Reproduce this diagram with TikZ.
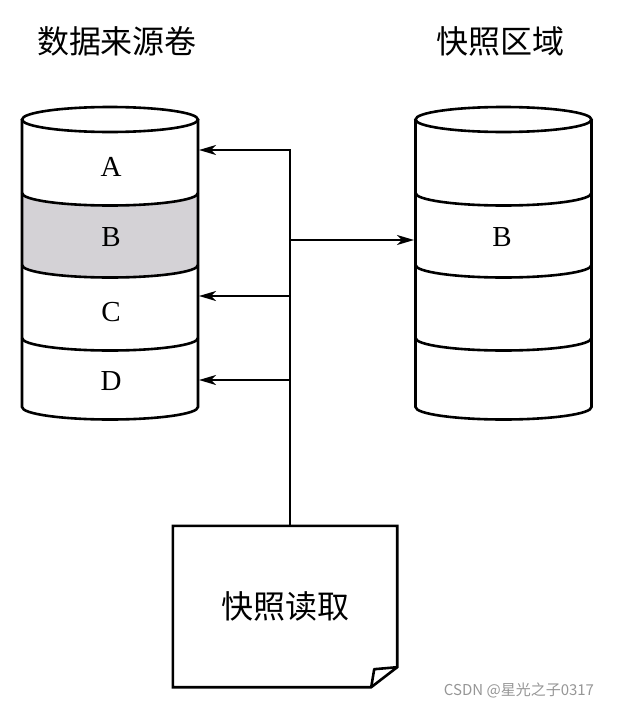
\documentclass[tikz,border=0pt]{standalone}
\usepackage{fontspec}
\setmainfont{Liberation Serif}
\newfontfamily\cjk{Noto Sans CJK SC}
\usetikzlibrary{arrows.meta}
\definecolor{bandgray}{RGB}{212,210,214}
\definecolor{markgray}{RGB}{150,150,150}

\begin{document}
\begin{tikzpicture}[x=1pt,y=-1pt,
		wall/.style={line width=2.6pt},
		link/.style={line width=2pt,-{Stealth[length=17pt,width=10pt,inset=5pt]}},
		letter/.style={font=\fontsize{29}{29}\selectfont},
		title/.style={font=\cjk\fontsize{32}{32}\selectfont},
		half/.style={x radius=88,y radius=12.5}]
				\useasboundingbox (0,0) rectangle (616,707);
				% shaded band B of the source volume
				\fill [bandgray] (22,193) arc[start angle=180,end angle=0,half] -- (198,265)
					arc[start angle=0,end angle=180,half] -- cycle;
				% the two volumes
				\foreach \cx in {110,503.5} {
					\draw [wall] (\cx,119.5) ellipse[half];
					\draw [wall] ({\cx-88},119.5) -- ({\cx-88},407) arc[start angle=180,end angle=0,half] -- ({\cx+88},119.5);
					\foreach \y in {193,265,338}
						\draw [wall] ({\cx-88},\y) arc[start angle=180,end angle=0,half];
				}
				\node[title] (srcvol) at (117,41) {数据来源卷};
				\node[title] (snaparea) at (500,41) {快照区域};
				\node[letter] (A) at (111,167) {A};
				\node[letter] (B) at (111,237) {B};
				\node[letter] (C) at (111,312) {C};
				\node[letter] (D) at (111,381) {D};
				\node[letter] (B1) at (502,237) {B};
				% snapshot read page
				\node[title,minimum width=224,minimum height=161] (reader) at (285,606.5) {快照读取};
				\draw [wall] (reader.north west) -- (reader.north east) -- ([yshift=20pt]reader.south east)
					-- ([xshift=-26pt]reader.south east) -- (reader.south west) -- cycle;
				\draw [wall,line join=round] ([yshift=20pt]reader.south east) -- ([xshift=-23pt,yshift=18pt]reader.south east)
					-- ([xshift=-26pt]reader.south east);
				\coordinate (tap) at (290,526);
				\coordinate (inA) at (199,150);
				\coordinate (inC) at (199,296);
				\coordinate (inD) at (199,380);
				\coordinate (inB1) at (414,240);
				\draw [link] (tap) |- (inA);
				\draw [link] (tap |- inC) -- (inC);
				\draw [link] (tap |- inD) -- (inD);
				\draw [link,line width=1.6pt] (tap |- inB1) -- (inB1);
				\node[font=\cjk\fontsize{15}{15}\selectfont,text=markgray] (mark) at (519,690) {CSDN @星光之子0317};
			\end{tikzpicture}
\end{document}
